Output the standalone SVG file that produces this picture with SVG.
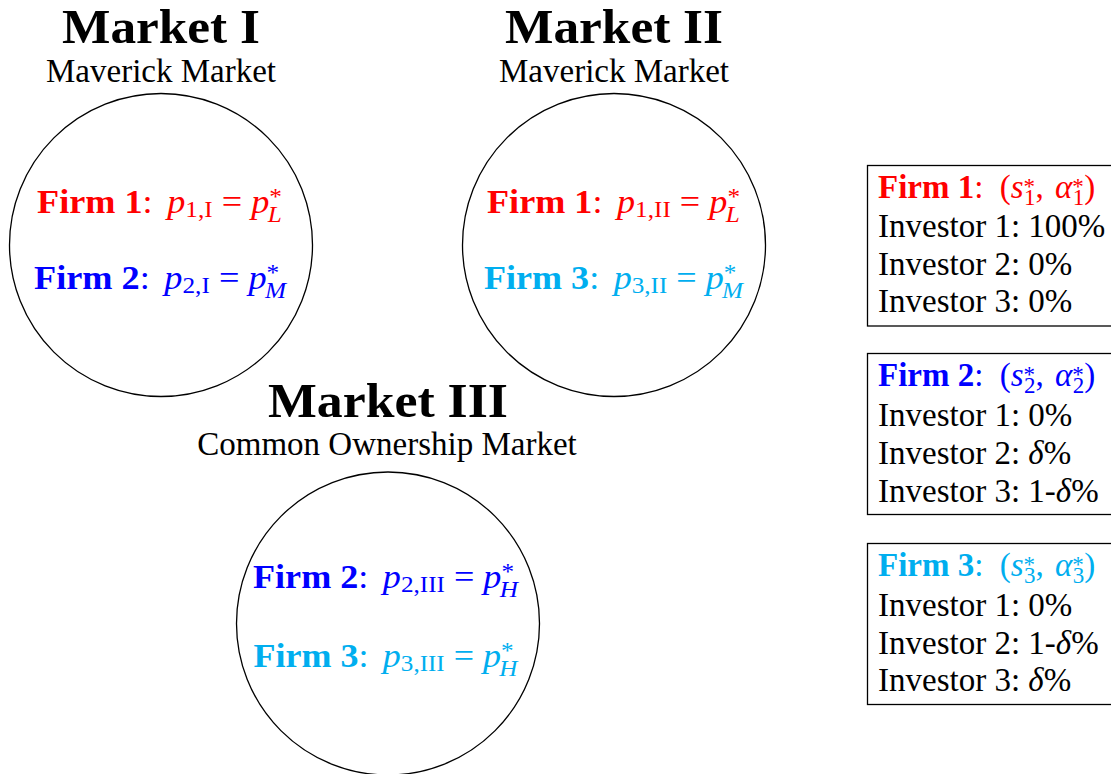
<svg xmlns="http://www.w3.org/2000/svg" width="1111" height="774" viewBox="0 0 1111 774">
<style>
.t{font-family:"Liberation Serif","Times New Roman",serif;font-size:33px;fill:#000}
.title{font-weight:bold;font-size:48px}
.b{font-weight:bold}
.i{font-style:italic}
.s{font-size:23px}
.red{fill:#ff0000}
.blue{fill:#0000ff}
.cyan{fill:#00aeef}
.ring{fill:none;stroke:#000;stroke-width:1.3}
.box{fill:none;stroke:#000;stroke-width:1.3}
</style>
<rect width="1111" height="774" fill="#fff"/>
<g id="connectors"/>
<g id="market-1">
<text class="t title" x="161" y="42.5" text-anchor="middle" textLength="198" lengthAdjust="spacingAndGlyphs">Market I</text>
<text class="t" x="161" y="81.5" text-anchor="middle">Maverick Market</text>
<circle class="ring" cx="161" cy="245" r="151.5"/>
<text class="t red" x="159.5" y="213" text-anchor="middle" textLength="245" lengthAdjust="spacingAndGlyphs"><tspan class="b">Firm 1</tspan>: <tspan class="i" dx="5">p</tspan><tspan class="s" dy="4">1,I</tspan><tspan dy="-4"> = </tspan><tspan class="i">p</tspan><tspan class="s" dy="-9">*</tspan><tspan class="s i" dx="-13" dy="18">L</tspan></text>
<text class="t blue" x="160" y="289" text-anchor="middle" textLength="252" lengthAdjust="spacingAndGlyphs"><tspan class="b">Firm 2</tspan>: <tspan class="i" dx="5">p</tspan><tspan class="s" dy="4">2,I</tspan><tspan dy="-4"> = </tspan><tspan class="i">p</tspan><tspan class="s" dy="-9">*</tspan><tspan class="s i" dx="-13" dy="18">M</tspan></text>
</g>
<g id="market-2">
<text class="t title" x="614" y="42.5" text-anchor="middle" textLength="218" lengthAdjust="spacingAndGlyphs">Market II</text>
<text class="t" x="614" y="81.5" text-anchor="middle">Maverick Market</text>
<circle class="ring" cx="614" cy="245" r="151.5"/>
<text class="t red" x="613.5" y="213" text-anchor="middle" textLength="253" lengthAdjust="spacingAndGlyphs"><tspan class="b">Firm 1</tspan>: <tspan class="i" dx="5">p</tspan><tspan class="s" dy="4">1,II</tspan><tspan dy="-4"> = </tspan><tspan class="i">p</tspan><tspan class="s" dy="-9">*</tspan><tspan class="s i" dx="-13" dy="18">L</tspan></text>
<text class="t cyan" x="613.5" y="289" text-anchor="middle" textLength="259" lengthAdjust="spacingAndGlyphs"><tspan class="b">Firm 3</tspan>: <tspan class="i" dx="5">p</tspan><tspan class="s" dy="4">3,II</tspan><tspan dy="-4"> = </tspan><tspan class="i">p</tspan><tspan class="s" dy="-9">*</tspan><tspan class="s i" dx="-13" dy="18">M</tspan></text>
</g>
<g id="market-3">
<text class="t title" x="388" y="417" text-anchor="middle" textLength="240" lengthAdjust="spacingAndGlyphs">Market III</text>
<text class="t" x="387" y="455" text-anchor="middle">Common Ownership Market</text>
<circle class="ring" cx="388" cy="623.5" r="151.5"/>
<text class="t blue" x="385.5" y="588" text-anchor="middle" textLength="265" lengthAdjust="spacingAndGlyphs"><tspan class="b">Firm 2</tspan>: <tspan class="i" dx="5">p</tspan><tspan class="s" dy="4">2,III</tspan><tspan dy="-4"> = </tspan><tspan class="i">p</tspan><tspan class="s" dy="-9">*</tspan><tspan class="s i" dx="-13" dy="18">H</tspan></text>
<text class="t cyan" x="385.5" y="667" text-anchor="middle" textLength="264" lengthAdjust="spacingAndGlyphs"><tspan class="b">Firm 3</tspan>: <tspan class="i" dx="5">p</tspan><tspan class="s" dy="4">3,III</tspan><tspan dy="-4"> = </tspan><tspan class="i">p</tspan><tspan class="s" dy="-9">*</tspan><tspan class="s i" dx="-13" dy="18">H</tspan></text>
</g>
<g id="box-firm-1">
<rect class="box" x="867.5" y="165.5" width="260" height="160.5"/>
<text class="t red" x="878" y="198"><tspan class="b">Firm 1</tspan>: <tspan dx="8">(</tspan><tspan class="i">s</tspan><tspan class="s" dy="-4">*</tspan><tspan class="s" dx="-11" dy="11">1</tspan><tspan dy="-7">, </tspan><tspan class="i" dx="3">α</tspan><tspan class="s" dy="-4">*</tspan><tspan class="s" dx="-11" dy="11">1</tspan><tspan dy="-7">)</tspan></text>
<text class="t" x="878" y="237">Investor 1: 100%</text>
<text class="t" x="878" y="275">Investor 2: 0%</text>
<text class="t" x="878" y="312">Investor 3: 0%</text>
</g>
<g id="box-firm-2">
<rect class="box" x="867.5" y="353.5" width="260" height="161"/>
<text class="t blue" x="878" y="386"><tspan class="b">Firm 2</tspan>: <tspan dx="8">(</tspan><tspan class="i">s</tspan><tspan class="s" dy="-4">*</tspan><tspan class="s" dx="-11" dy="11">2</tspan><tspan dy="-7">, </tspan><tspan class="i" dx="3">α</tspan><tspan class="s" dy="-4">*</tspan><tspan class="s" dx="-11" dy="11">2</tspan><tspan dy="-7">)</tspan></text>
<text class="t" x="878" y="426">Investor 1: 0%</text>
<text class="t" x="878" y="464">Investor 2: <tspan class="i">δ</tspan>%</text>
<text class="t" x="878" y="502">Investor 3: 1-<tspan class="i">δ</tspan>%</text>
</g>
<g id="box-firm-3">
<rect class="box" x="867.5" y="543.5" width="260" height="161"/>
<text class="t cyan" x="878" y="576"><tspan class="b">Firm 3</tspan>: <tspan dx="8">(</tspan><tspan class="i">s</tspan><tspan class="s" dy="-4">*</tspan><tspan class="s" dx="-11" dy="11">3</tspan><tspan dy="-7">, </tspan><tspan class="i" dx="3">α</tspan><tspan class="s" dy="-4">*</tspan><tspan class="s" dx="-11" dy="11">3</tspan><tspan dy="-7">)</tspan></text>
<text class="t" x="878" y="616">Investor 1: 0%</text>
<text class="t" x="878" y="654">Investor 2: 1-<tspan class="i">δ</tspan>%</text>
<text class="t" x="878" y="691">Investor 3: <tspan class="i">δ</tspan>%</text>
</g>
</svg>
